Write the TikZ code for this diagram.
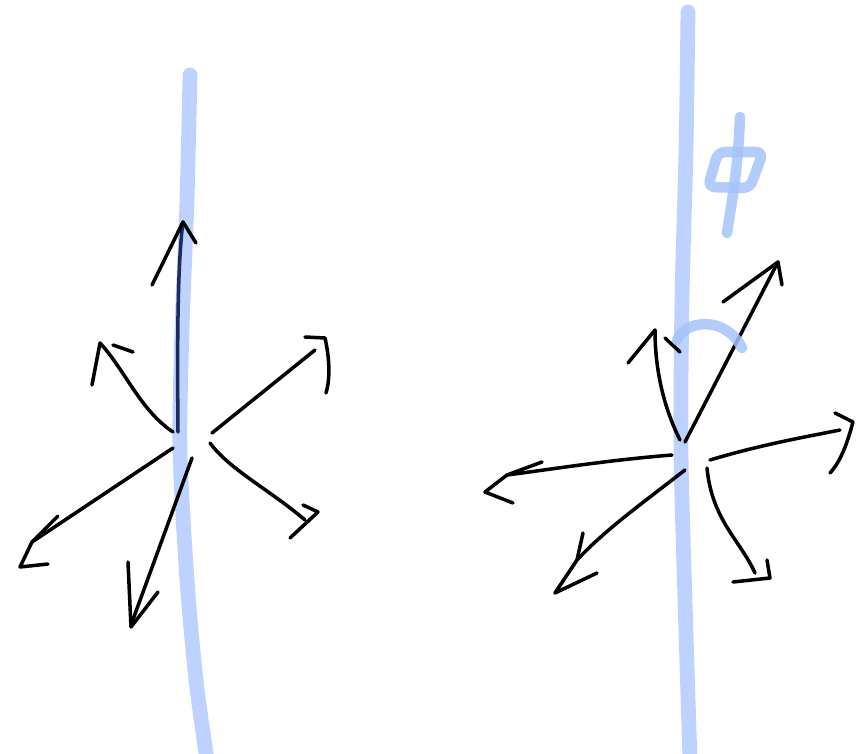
\documentclass[tikz,border=0pt]{standalone}
\definecolor{sketchblue}{RGB}{190,210,255}
\definecolor{sketchmark}{RGB}{165,195,250}
\definecolor{sketchnavy}{RGB}{25,45,95}
\usepackage{xcolor}
\usepackage{tikz}
\begin{document}
\begin{tikzpicture}[x=0.01cm, y=-0.01cm,
    pen/.style={line width=1pt, line cap=round, line join=round},
    marker/.style={draw=sketchblue, line width=4.2pt, line cap=round, line join=round},
    phimark/.style={draw=sketchmark, line width=3pt, line cap=round, line join=round, opacity=0.85}]
        \useasboundingbox (0,0) rectangle (856,754);
        % axes
        \draw[marker] plot[smooth] coordinates {(190,75) (187,200) (182,330) (180,450) (187,580) (196,680) (207,760)};
        \draw[marker] plot[smooth] coordinates {(688,12) (686,150) (682,300) (681,450) (685,600) (690,760)};
        % left star
        \draw[pen, draw=sketchnavy] (178,432) .. controls (177,330) and (178,260) .. (183,222);
        \draw[pen] (152,285) -- (183,222) -- (196,243);
        \draw[pen] (173,432) .. controls (140,410) and (125,370) .. (100,343);
        \draw[pen] (92,385) -- (100,343);
        \draw[pen] (113,345) -- (133,352);
        \draw[pen] (212,433) -- (315,350);
        \draw[pen] (305,337) -- (325,338) .. controls (330,360) and (330,380) .. (326,393);
        \draw[pen] (173,448) -- (32,542);
        \draw[pen] (58,516) -- (32,542) -- (20,567) -- (48,564);
        \draw[pen] (192,458) -- (131,625);
        \draw[pen] (128,562) -- (131,627) -- (158,592);
        \draw[pen] (210,443) .. controls (230,470) and (270,490) .. (305,520);
        \draw[pen] (303,505) -- (318,512) -- (290,538);
        % right star
        \draw[pen] (680,440) .. controls (660,400) and (655,360) .. (655,330);
        \draw[pen] (628,363) -- (655,330);
        \draw[pen] (665,338) -- (680,352);
        \draw[pen] (685,442) -- (778,262);
        \draw[pen] (723,302) -- (778,262) -- (782,285);
        \draw[pen] (710,460) .. controls (760,445) and (800,438) .. (840,430);
        \draw[pen] (835,413) -- (853,422) .. controls (848,440) and (842,460) .. (830,473);
        \draw[pen] (672,455) .. controls (610,460) and (560,468) .. (507,475);
        \draw[pen] (542,462) -- (507,475) -- (485,492) -- (513,503);
        \draw[pen] (685,470) .. controls (640,505) and (605,530) .. (577,560) -- (555,593);
        \draw[pen] (583,533) -- (577,560);
        \draw[pen] (555,593) -- (597,573);
        \draw[pen] (707,468) .. controls (712,520) and (740,540) .. (755,573);
        \draw[pen] (767,560) -- (770,578) -- (733,582);
        % angle and phi
        \draw[phimark] (677,340) .. controls (685,320) and (725,315) .. (742,348);
        \draw[phimark] (740,117) .. controls (738,170) and (732,200) .. (727,233);
        \draw[phimark, rounded corners=2] (718,152) -- (763,152) -- (750,188) -- (708,187) -- cycle;
      \end{tikzpicture}
\end{document}
